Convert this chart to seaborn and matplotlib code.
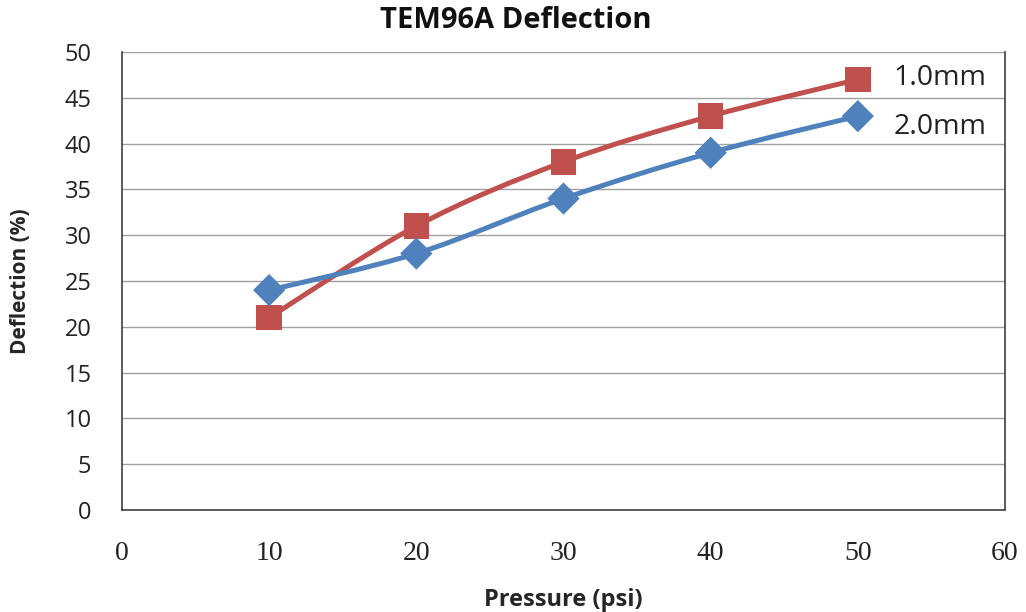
import numpy as np
import pandas as pd
import matplotlib
matplotlib.use("Agg")
import matplotlib.pyplot as plt
from matplotlib.path import Path
from matplotlib.patches import PathPatch
import seaborn as sns

pressure = [10, 20, 30, 40, 50]
defl_1mm = [21, 31, 38, 43, 47]
defl_2mm = [24, 28, 34, 39, 43]
series_names = ["1.0mm", "2.0mm"]
colors = {"1.0mm": "#C0504D", "2.0mm": "#4F81BD"}
markers = {"1.0mm": "s", "2.0mm": "D"}

df = pd.DataFrame({
    "Pressure": pressure * 2,
    "Deflection": defl_1mm + defl_2mm,
    "Series": [series_names[0]] * 5 + [series_names[1]] * 5,
})

sns.set_style("white")
plt.rcParams['font.family'] = ['Open Sans', 'DejaVu Sans']

fig = plt.figure(figsize=(10.26, 6.12), dpi=100)
ax = fig.add_axes([122 / 1026, 1 - 510 / 612, 883 / 1026, 458 / 612])


def bezier_path(xs, ys, tension=1 / 6):
    # Excel-style smoothed line: cubic Bezier through the data points
    pts = np.column_stack([xs, ys]).astype(float)
    verts = [pts[0]]
    codes = [Path.MOVETO]
    n = len(pts)
    for i in range(n - 1):
        p0 = pts[i - 1] if i > 0 else pts[i]
        p1 = pts[i]
        p2 = pts[i + 1]
        p3 = pts[i + 2] if i + 2 < n else pts[i + 1]
        c1 = p1 + (p2 - p0) * tension
        c2 = p2 - (p3 - p1) * tension
        verts += [c1, c2, p2]
        codes += [Path.CURVE4] * 3
    return Path(verts, codes)


# smooth connecting lines
for name in series_names:
    sub = df[df["Series"] == name]
    patch = PathPatch(bezier_path(sub["Pressure"].values, sub["Deflection"].values),
                      facecolor="none", edgecolor=colors[name], lw=3.6,
                      capstyle="round", joinstyle="round", zorder=3)
    ax.add_patch(patch)

# markers
for name in series_names:
    sub = df[df["Series"] == name]
    sns.scatterplot(data=sub, x="Pressure", y="Deflection", ax=ax,
                    marker=markers[name], color=colors[name],
                    s=340 if name == "1.0mm" else 270, edgecolor="none",
                    zorder=4, legend=False)

ax.set_xlim(0, 60)
ax.set_ylim(0, 50)
ax.set_yticks(np.arange(0, 51, 5))
ax.set_xticks(np.arange(0, 61, 10))
ax.grid(axis="y", color="#A0A0A0", lw=1.0)
ax.set_axisbelow(True)
for side in ["left", "bottom", "right", "top"]:
    ax.spines[side].set_visible(True)
    ax.spines[side].set_color("#404040")
    ax.spines[side].set_linewidth(1.2)
ax.spines["top"].set_visible(False)

ax.tick_params(axis="y", length=0, pad=22, labelsize=17, colors="#222222")
ax.tick_params(axis="x", direction="in", length=6, width=1, color="#404040",
               pad=22, labelsize=20, labelcolor="#222222")
for lbl in ax.get_xticklabels():
    lbl.set_fontfamily("Liberation Serif")
    lbl.set_fontsize(20)

ax.set_xlabel("Pressure (psi)", fontsize=17, fontweight="bold", labelpad=16)
ax.set_ylabel("Deflection (%)", fontsize=15, fontweight="bold", labelpad=24)
fig.suptitle("TEM96A Deflection", x=0.503, y=0.99, va="top",
             fontsize=21, fontweight="bold", color="#111111")

# legend text next to series ends
ax.text(52.4, 47.2, series_names[0], fontsize=20.5, va="center", ha="left", color="#222222")
ax.text(52.4, 41.8, series_names[1], fontsize=20.5, va="center", ha="left", color="#222222")

fig.savefig("out.png", dpi=100)
